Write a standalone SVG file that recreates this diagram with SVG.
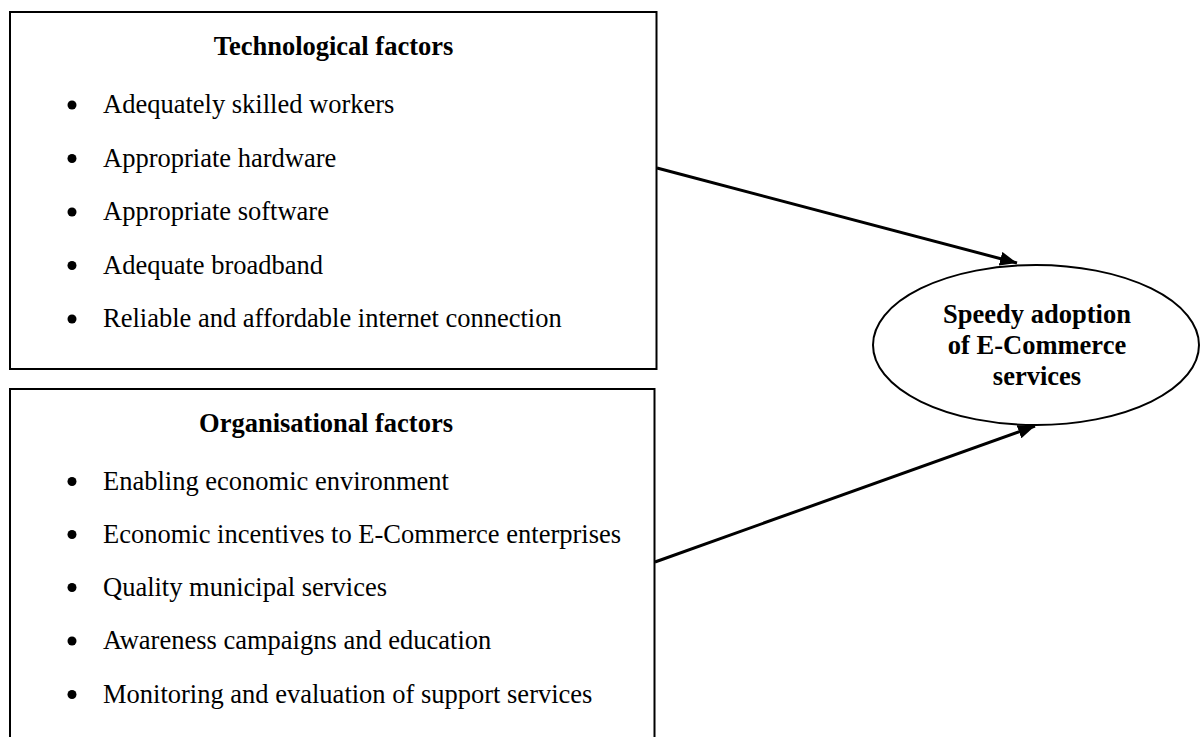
<svg xmlns="http://www.w3.org/2000/svg" width="1200" height="737" viewBox="0 0 1200 737">
  <defs>
    <marker id="arrow" markerUnits="userSpaceOnUse" markerWidth="18" markerHeight="14" refX="17" refY="7" orient="auto">
      <path d="M0,0 L17,7 L0,14 z" fill="#000"/>
    </marker>
    <style>
      .box { fill: #fff; stroke: #000; stroke-width: 2; }
      .oval { fill: #fff; stroke: #000; stroke-width: 2; }
      .title { font-family: "Liberation Serif", "Times New Roman", serif; font-size: 26.5px; font-weight: bold; fill: #000; text-anchor: middle; }
      .item { font-family: "Liberation Serif", "Times New Roman", serif; font-size: 26.5px; fill: #000; }
      .bullet { fill: #000; }
      .edge { stroke: #000; stroke-width: 3; fill: none; marker-end: url(#arrow); }
    </style>
  </defs>
  <rect width="1200" height="737" fill="#fff"/>

  <!-- Technological factors -->
  <g id="technological">
    <rect class="box" x="10" y="12" width="646.5" height="357"/>
    <text class="title" x="333.5" y="55">Technological factors</text>
    <circle class="bullet" cx="72" cy="105" r="4.5"/>
    <text class="item" x="103" y="113">Adequately skilled workers</text>
    <circle class="bullet" cx="72" cy="158.5" r="4.5"/>
    <text class="item" x="103" y="166.5">Appropriate hardware</text>
    <circle class="bullet" cx="72" cy="212" r="4.5"/>
    <text class="item" x="103" y="220">Appropriate software</text>
    <circle class="bullet" cx="72" cy="265.5" r="4.5"/>
    <text class="item" x="103" y="273.5">Adequate broadband</text>
    <circle class="bullet" cx="72" cy="319" r="4.5"/>
    <text class="item" x="103" y="327">Reliable and affordable internet connection</text>
  </g>

  <!-- Organisational factors -->
  <g id="organisational">
    <rect class="box" x="10" y="389" width="644.5" height="360"/>
    <text class="title" x="326" y="432">Organisational factors</text>
    <circle class="bullet" cx="72" cy="481.5" r="4.5"/>
    <text class="item" x="103" y="489.5">Enabling economic environment</text>
    <circle class="bullet" cx="72" cy="534.5" r="4.5"/>
    <text class="item" x="103" y="542.5">Economic incentives to E-Commerce enterprises</text>
    <circle class="bullet" cx="72" cy="587.5" r="4.5"/>
    <text class="item" x="103" y="595.5">Quality municipal services</text>
    <circle class="bullet" cx="72" cy="641" r="4.5"/>
    <text class="item" x="103" y="649">Awareness campaigns and education</text>
    <circle class="bullet" cx="72" cy="694.5" r="4.5"/>
    <text class="item" x="103" y="702.5">Monitoring and evaluation of support services</text>
  </g>

  <!-- Outcome -->
  <g id="adoption">
    <ellipse class="oval" cx="1036" cy="345" rx="163" ry="80"/>
    <text class="title" x="1037" y="323">Speedy adoption</text>
    <text class="title" x="1037" y="354">of E-Commerce</text>
    <text class="title" x="1037" y="385">services</text>
  </g>

  <!-- Connectors -->
  <g id="connectors">
    <line class="edge" x1="657" y1="168" x2="1017" y2="263"/>
    <line class="edge" x1="655" y1="562" x2="1035" y2="426"/>
  </g>
</svg>
